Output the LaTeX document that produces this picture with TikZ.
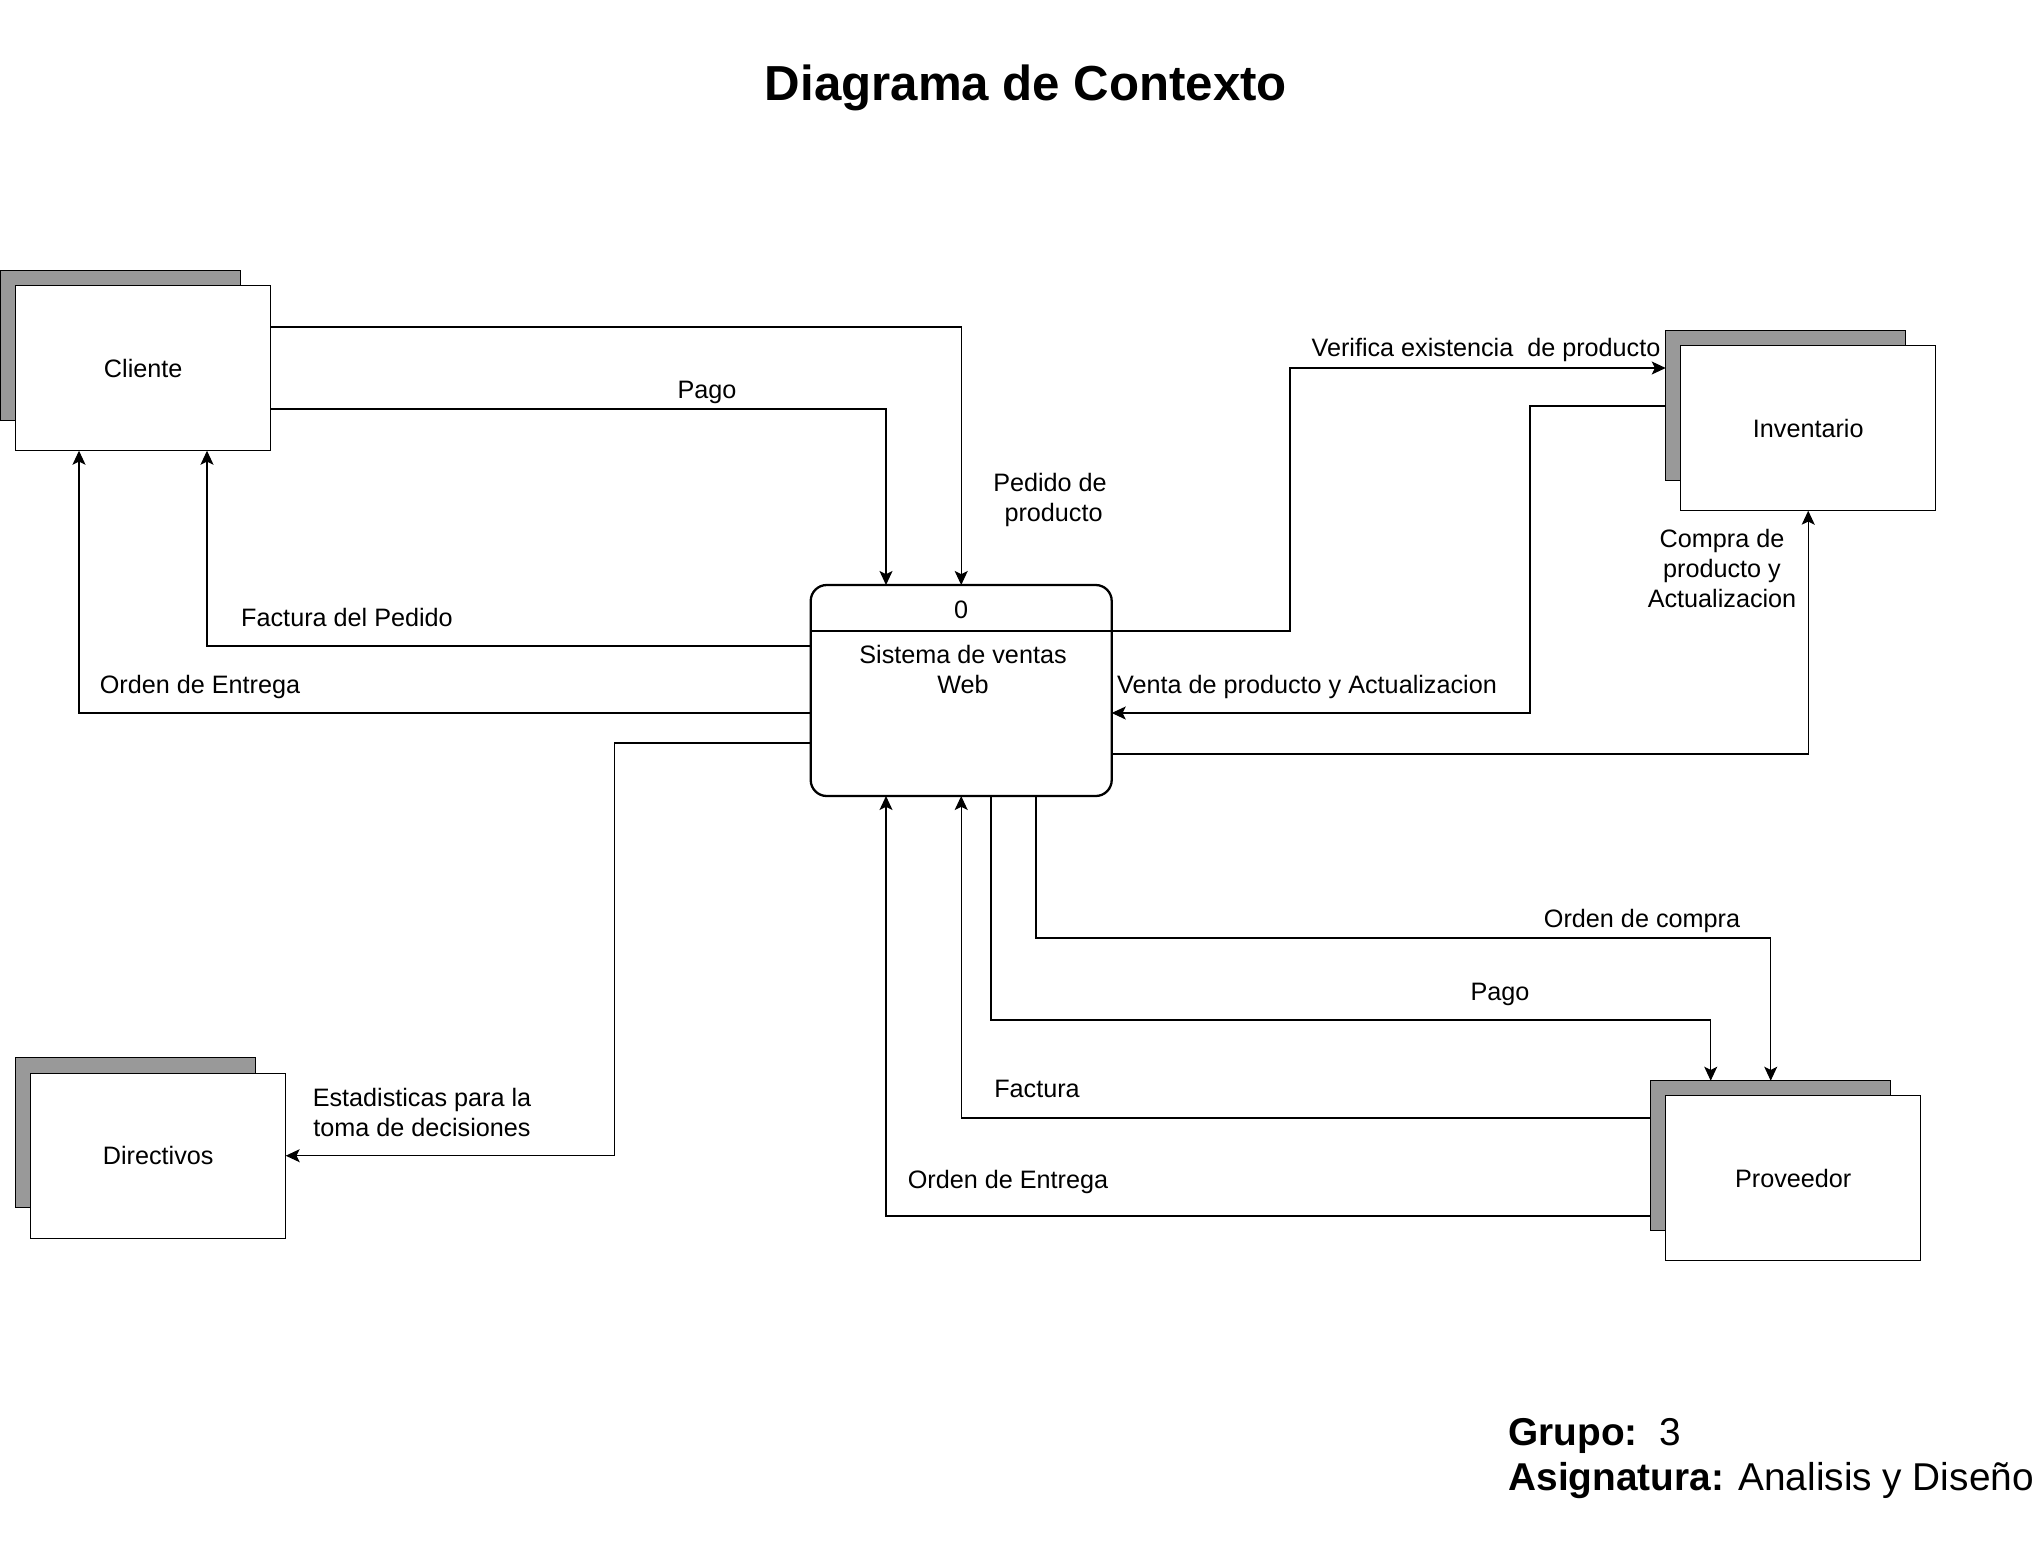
\documentclass[tikz,border=0pt]{standalone}
\usepackage{fontspec}
\setmainfont{Liberation Sans}
\usetikzlibrary{arrows.meta,calc}
\definecolor{shgray}{RGB}{153,153,153}
\begin{document}
\begin{tikzpicture}[x=0.5pt,y=-0.5pt,
  lbl/.style={inner sep=0pt, font=\fontsize{12.6}{15}\selectfont, align=center},
  flow/.style={draw=black, line width=0.6pt, -{Stealth[length=7pt,width=6.5pt,inset=1.6pt]}},
  entity/.style={draw=black, fill=white, line width=0.65pt, minimum width=127.5pt, minimum height=82.5pt, inner sep=0pt, outer sep=0pt, font=\fontsize{12.6}{15}\selectfont},
  shadowbox/.style={draw=black, fill=shgray, line width=0.65pt, minimum width=120pt, minimum height=75pt, inner sep=0pt, outer sep=0pt},
  procbox/.style={draw=black, line width=1.15pt, rounded corners=8pt, minimum width=150.5pt, minimum height=105.5pt, inner sep=0pt, outer sep=0pt}
]
\useasboundingbox (0,0) rectangle (2037,1547);

% title
\node[anchor=base, inner sep=0pt, font=\bfseries\fontsize{24.6}{30}\selectfont] (title) at (1026,100) {Diagrama de Contexto};

% entities
\node[shadowbox] (cliS) at (120.7,345.7) {};
\node[entity] (cli) at (143.2,368.2) {Cliente};
\node[shadowbox] (invS) at (1785.7,405.7) {};
\node[entity] (inv) at (1808.2,428.2) {Inventario};
\node[shadowbox] (prvS) at (1770.7,1155.7) {};
\node[entity] (prv) at (1793.2,1178.2) {Proveedor};
\node[shadowbox] (dirS) at (135.7,1132.7) {};
\node[entity] (dir) at (158.2,1155.7) {Directivos};

% process
\node[procbox] (proc) at (961.2,690.5) {};
\draw[line width=1.15pt] (proc.west |- 0,631) coordinate (sepL) -- (proc.east |- 0,631) coordinate (sepR);
\node[lbl] (pnum) at (961.2,610) {0};
\node[lbl] (pname) at (963,669.5) {Sistema de ventas\\Web};

% connectors
\draw[flow] (cli.east |- 0,327) -| (proc.north);
\draw[flow] (cli.east |- 0,409) -| (proc.north -| 886,0);
\draw[flow] (proc.west |- 0,646) -| (cli.south -| 207,0);
\draw[flow] (proc.west |- 0,713) -| (cli.south -| 79,0);
\draw[flow] (proc.west |- 0,743) -| (dir.east -| 614.5,0) -- (dir.east);
\draw[flow] (sepR) -| (1290,368) -- (invS.west |- 0,368);
\draw[flow] (invS.west |- 0,406) -| (1530,713) -- (proc.east |- 0,713);
\draw[flow] (proc.east |- 0,754) -| (inv.south);
\draw[flow] (proc.south -| 1036,0) |- (1770.7,938) -- (prvS.north -| 1770.7,0);
\draw[flow] (proc.south -| 991,0) |- (1710.7,1020) -- (prvS.north -| 1710.7,0);
\draw[flow] (prvS.west |- 0,1118) -| (proc.south);
\draw[flow] (prvS.west |- 0,1216) -| (proc.south -| 886,0);

% labels
\node[lbl] (lPago1) at (707,392) {Pago};
\node[lbl] (lPedido) at (1050,500) {Pedido de\\\hspace*{0.28em}producto};
\node[lbl] (lFactPed) at (347,617) {Factura del Pedido};
\node[lbl] (lOrdenL) at (200,687) {Orden de Entrega};
\node[lbl] (lVerif) at (1486,350) {Verifica existencia\ \ de producto};
\node[lbl] (lVenta) at (1307,687) {Venta de producto y Actualizacion};
\node[lbl] (lCompra) at (1722,568) {Compra de\\producto y\\Actualizacion};
\node[lbl] (lOrdCompra) at (1642,921) {Orden de compra};
\node[lbl] (lPago2) at (1500,994) {Pago};
\node[lbl] (lFactura) at (1037,1089) {Factura};
\node[lbl] (lOrdenB) at (1008,1182) {Orden de Entrega};
\node[lbl] (lEstad) at (422,1112) {Estadisticas para la\\toma de decisiones};

% footer
\node[anchor=base west, inner sep=0pt, font=\fontsize{19.4}{23}\selectfont] (grupo) at (1508,1445) {\textbf{Grupo:}\ \ 3};
\node[anchor=base west, inner sep=0pt, font=\fontsize{19.4}{23}\selectfont] (asig) at (1508,1490) {\textbf{Asignatura:} Analisis y Diseño};
\end{tikzpicture}
\end{document}
